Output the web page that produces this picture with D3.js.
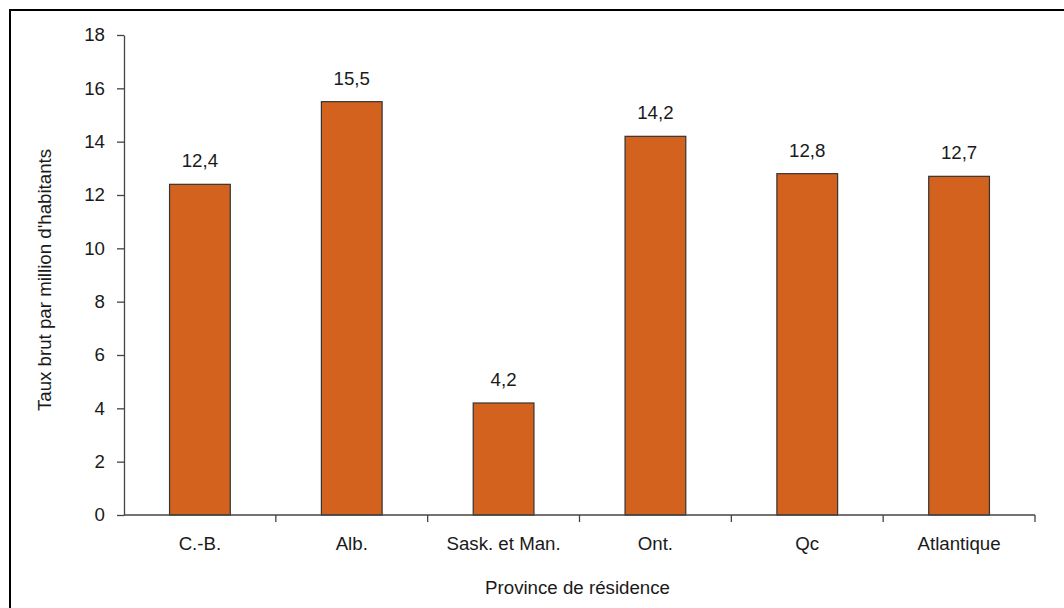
<!DOCTYPE html>
<html><head><meta charset="utf-8">
<script src="https://cdn.jsdelivr.net/npm/d3@7"></script>
<style>
html,body{margin:0;padding:0;background:#fff;}
svg{display:block;font-family:"Liberation Sans",Arial,sans-serif;}
</style></head>
<body>
<svg id="chart" width="1064" height="608"></svg>
<script>
const categories = ["C.-B.", "Alb.", "Sask. et Man.", "Ont.", "Qc", "Atlantique"];
const values = [12.4, 15.5, 4.2, 14.2, 12.8, 12.7];
const yTicks = [0, 2, 4, 6, 8, 10, 12, 14, 16, 18];
const yTitle = "Taux brut par million d'habitants";
const xTitle = "Province de résidence";

const svg = d3.select("#chart");
const mLeft = 124, mRight = 1035, mTop = 35, mBottom = 515;
const axisColor = "#444";
const fs = 18.7;

// frame
svg.append("rect").attr("x", 10).attr("y", 10).attr("width", 1070).attr("height", 620)
  .attr("fill", "none").attr("stroke", "#000").attr("stroke-width", 2);

const x = d3.scaleBand().domain(categories).range([mLeft, mRight]).paddingInner(0.6).paddingOuter(0.3);
const xb = d3.scaleBand().domain(categories).range([mLeft, mRight]);
const y = d3.scaleLinear().domain([0, 18]).range([mBottom, mTop]);

// bars
svg.append("g").selectAll("rect").data(values).join("rect")
  .attr("x", (d, i) => x(categories[i]))
  .attr("width", x.bandwidth())
  .attr("y", d => y(d))
  .attr("height", d => y(0) - y(d))
  .attr("fill", "#D4621F")
  .attr("stroke", "#333")
  .attr("stroke-width", 1.2);

// value labels
svg.append("g").selectAll("text").data(values).join("text")
  .attr("x", (d, i) => x(categories[i]) + x.bandwidth() / 2)
  .attr("y", d => y(d) - 17)
  .attr("text-anchor", "middle")
  .attr("font-size", fs)
  .attr("fill", "#1a1a1a")
  .text(d => d.toFixed(1).replace(".", ","));

// y axis
const yAxis = svg.append("g").attr("transform", `translate(${mLeft},0)`)
  .call(d3.axisLeft(y).tickValues(yTicks).tickSize(7).tickSizeOuter(0).tickPadding(12).tickFormat(d => d));
yAxis.selectAll("path,line").attr("stroke", axisColor).attr("stroke-width", 1.3);
yAxis.selectAll("text").attr("font-size", fs).attr("fill", "#1a1a1a").attr("font-family", "Liberation Sans, Arial, sans-serif");

// x axis with boundary ticks
const xg = svg.append("g").attr("transform", `translate(0,${mBottom})`);
xg.append("line").attr("x1", mLeft).attr("x2", mRight).attr("stroke", axisColor).attr("stroke-width", 1.3);
const bounds = categories.map(c => xb(c) + xb.bandwidth());
xg.selectAll("line.tk").data(bounds).join("line").attr("class", "tk")
  .attr("x1", d => d).attr("x2", d => d).attr("y1", 0).attr("y2", 7)
  .attr("stroke", axisColor).attr("stroke-width", 1.3);
xg.selectAll("text").data(categories).join("text")
  .attr("x", d => xb(d) + xb.bandwidth() / 2)
  .attr("y", 35)
  .attr("text-anchor", "middle")
  .attr("font-size", fs)
  .attr("fill", "#1a1a1a")
  .text(d => d);

// axis titles
svg.append("text")
  .attr("transform", `translate(51,${(mTop + mBottom) / 2 + 5}) rotate(-90)`)
  .attr("text-anchor", "middle").attr("font-size", fs).attr("fill", "#1a1a1a")
  .text(yTitle);
svg.append("text")
  .attr("x", (mLeft + mRight) / 2 - 2).attr("y", 594)
  .attr("text-anchor", "middle").attr("font-size", fs).attr("fill", "#1a1a1a")
  .text(xTitle);
</script>
</body></html>
